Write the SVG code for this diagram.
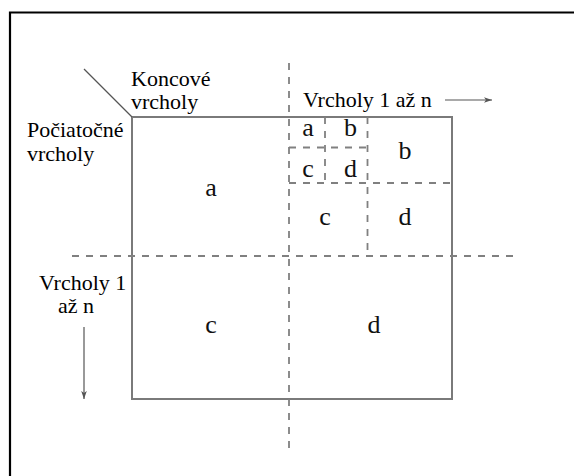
<svg xmlns="http://www.w3.org/2000/svg" width="574" height="476" viewBox="0 0 574 476">
<style>
.lbl{font-family:'Liberation Serif','DejaVu Serif',serif;font-size:22px;fill:#000}
.cell{font-family:'Liberation Serif','DejaVu Serif',serif;font-size:26px;fill:#111;text-anchor:middle}
.solid{fill:none;stroke:#7a7a7a;stroke-width:2}
.dash{fill:none;stroke:#808080;stroke-width:1.8;stroke-dasharray:7 7}
.thin{fill:none;stroke:#555;stroke-width:1.2}
</style>
<defs>
<marker id="ah" viewBox="0 0 10 10" refX="10" refY="5" markerWidth="10" markerHeight="8" markerUnits="userSpaceOnUse" orient="auto">
<path d="M0,1.5 L10,5 L0,8.5 L2.5,5 Z" fill="#555"/>
</marker>
</defs>
<rect x="0" y="0" width="574" height="476" fill="#fff"/>
<g id="frame">
<path d="M10,480 V12.5 H580" fill="none" stroke="#000" stroke-width="2.2"/>
</g>
<g id="matrix">
<rect class="solid" x="132" y="117" width="320" height="282"/>
</g>
<g id="connectors">
<line class="dash" x1="289" y1="63" x2="289" y2="454"/>
<line class="dash" x1="72" y1="256" x2="513" y2="256"/>
<line class="dash" x1="289" y1="183" x2="452" y2="183"/>
<line class="dash" x1="367.5" y1="117" x2="367.5" y2="256"/>
<line class="dash" x1="289" y1="147.5" x2="367.5" y2="147.5"/>
<line class="dash" x1="325" y1="117" x2="325" y2="183"/>
<line class="thin" x1="84" y1="69" x2="132" y2="117"/>
<line class="thin" x1="445" y1="100" x2="492" y2="100" marker-end="url(#ah)"/>
<line class="thin" x1="84" y1="327" x2="84" y2="399" marker-end="url(#ah)"/>
</g>
<g id="labels">
<text class="lbl" x="131" y="86">Koncové</text>
<text class="lbl" x="131" y="109">vrcholy</text>
<text class="lbl" x="27" y="137">Počiatočné</text>
<text class="lbl" x="27" y="161">vrcholy</text>
<text class="lbl" x="303" y="107">Vrcholy 1 až n</text>
<text class="lbl" x="39" y="290">Vrcholy 1</text>
<text class="lbl" x="58" y="313">až n</text>
</g>
<g id="cells">
<text class="cell" x="211" y="196">a</text>
<text class="cell" x="211" y="333">c</text>
<text class="cell" x="374" y="333">d</text>
<text class="cell" x="308" y="136">a</text>
<text class="cell" x="350.5" y="136">b</text>
<text class="cell" x="308" y="177">c</text>
<text class="cell" x="350.5" y="177">d</text>
<text class="cell" x="405" y="159">b</text>
<text class="cell" x="325" y="225">c</text>
<text class="cell" x="405" y="225">d</text>
</g>
</svg>
